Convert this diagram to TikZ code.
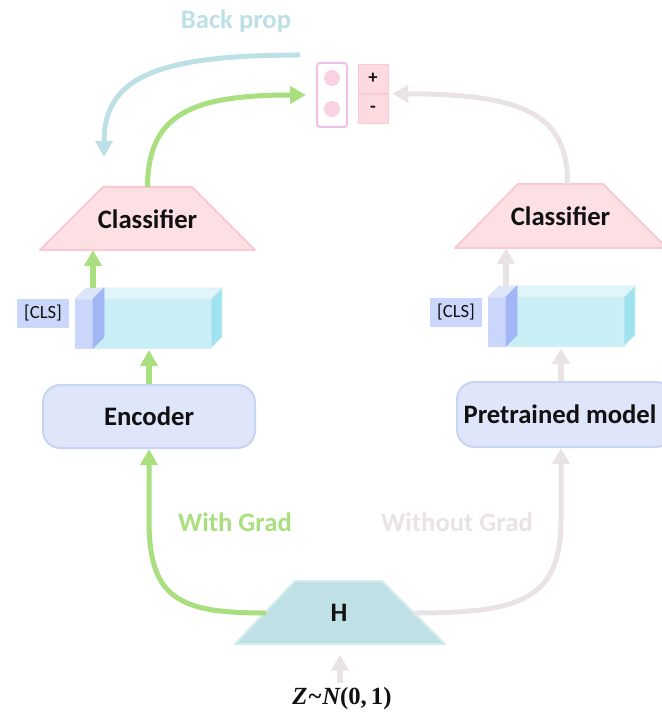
\documentclass[tikz,border=0pt]{standalone}
\usepackage[no-math]{fontspec}
\setmainfont{Carlito}
\newfontfamily\zserif{Liberation Serif}
\usetikzlibrary{arrows.meta,calc}
\definecolor{cG}{HTML}{A9DF7F}
\definecolor{cB}{HTML}{BDE0E6}
\definecolor{cR}{HTML}{E9E2E6}
\definecolor{pinkF}{HTML}{FCE0E4}
\definecolor{pinkD}{HTML}{F9C9D5}
\definecolor{outD}{HTML}{F0BFEA}
\definecolor{dotF}{HTML}{F8D2E3}
\definecolor{pmF}{HTML}{FCDADF}
\definecolor{cyF}{HTML}{C9EFF6}
\definecolor{cyT}{HTML}{E0F5F9}
\definecolor{cyS}{HTML}{9FE3F0}
\definecolor{cyD}{HTML}{D6EEF1}
\definecolor{clF}{HTML}{CBD7FA}
\definecolor{clT}{HTML}{DDE5F8}
\definecolor{clS}{HTML}{A2B6F6}
\definecolor{encF}{HTML}{DFE6FA}
\definecolor{encD}{HTML}{C8D4F4}
\definecolor{hF}{HTML}{BFE1E5}
\definecolor{hD}{HTML}{D5ECEE}
\definecolor{ink}{HTML}{111111}
\newcommand{\zdist}{{\zserif\bfseries\itshape Z}\kern0.04em{\zserif\bfseries\char`\~}\kern0.04em{\zserif\bfseries\itshape N}{\zserif\bfseries(0,\,1)}}
\begin{document}
\begin{tikzpicture}[x=0.75pt,y=-0.75pt,
  big/.style={font=\fontsize{20}{24}\selectfont\bfseries, text=ink},
  trapfill/.style={line width=1.5pt, line join=round},
  rbox/.style={draw=encD, fill=encF, line width=1.5pt, rounded corners=13pt, inner sep=0pt},
  cfront/.style={draw=cyD, fill=cyF, line width=0.6pt, minimum width=88.5pt, minimum height=36.75pt, inner sep=0pt, outer sep=0pt},
  lfront/.style={draw=clF, fill=clF, line width=0.6pt, minimum width=13.5pt, minimum height=36.75pt, inner sep=0pt, outer sep=0pt},
  face/.style={line width=0.6pt},
  lbox/.style={fill=clF, minimum width=39pt, minimum height=21.75pt, inner sep=0pt, font=\fontsize{14}{16}\selectfont, text=ink},
  pm/.style={fill=pmF, draw=pinkD, line width=0.5pt, minimum width=22.5pt, minimum height=21.75pt, inner sep=0pt, font=\fontsize{14}{16}\selectfont\bfseries, text=ink},
  ztext/.style={font=\fontsize{18.5}{22}\selectfont, text=ink},
  tipS/.style={-{Triangle[width=12.75pt,length=12pt]}},
  gS/.style={draw=cG, line width=4.5pt, tipS},
  rS/.style={draw=cR, line width=4.5pt, tipS},
  gC/.style={draw=cG, line width=3.75pt, tipS},
  rC/.style={draw=cR, line width=3.75pt, tipS},
  bC/.style={draw=cB, line width=3.75pt, tipS}
]
\useasboundingbox (0,0) rectangle (661,716);

% ---------- top output ----------
\node[draw=outD, line width=1.5pt, rounded corners=2.25pt, minimum width=22.5pt, minimum height=48pt, inner sep=0pt] (outbox) at (332,95) {};
\node[circle, fill=dotF, minimum size=12pt, inner sep=0pt] (d1) at (332,78) {};
\node[circle, fill=dotF, minimum size=12pt, inner sep=0pt] (d2) at (332,109) {};
\node[pm] (plus) at (373,78.5) {+};
\node[pm] (minus) at (373,109) {-};
\coordinate (pmE) at ($(plus.south east)!0.5!(minus.north east)$);

\node[big, text=cB] (bp) at (236,21) {Back prop};
\coordinate (bps) at (300,55);
\coordinate (bpe) at (104,157);
\draw[bC] (bps) .. controls (155,55) and (104,78) .. (bpe);

% ---------- classifiers ----------
\path[trapfill, fill=pinkF, draw=pinkD] (40,250) -- (103,187) -- (192,187) -- (255,250) -- cycle;
\node[big] (clfL) at (147.5,219) {Classifier};
\coordinate (clfLtop) at (147.5,187);
\coordinate (clfLbot) at (147.5,250);
\path[trapfill, fill=pinkF, draw=pinkD] (455,248) -- (518,184) -- (603,184) -- (667,248) -- cycle;
\node[big] (clfR) at (560.5,216.5) {Classifier};
\coordinate (clfRtop) at (560.5,184);
\coordinate (clfRbot) at (560.5,248);

% ---------- left cube ----------
\node[cfront] (cubeL) at (152,323.5) {};
\path[face, fill=cyT, draw=cyD] (cubeL.north west) -- ++(11,-11) -- ($(cubeL.north east)+(11,-11)$) -- (cubeL.north east) -- cycle;
\path[face, fill=cyS, draw=cyD] (cubeL.north east) -- ++(11,-11) -- ($(cubeL.south east)+(11,-11)$) -- (cubeL.south east) -- cycle;
\node[lfront] (clsL) at (84,323.5) {};
\path[face, fill=clT, draw=clT] (clsL.north west) -- ++(11,-11) -- ($(clsL.north east)+(11,-11)$) -- (clsL.north east) -- cycle;
\path[face, fill=clS, draw=clS] (clsL.north east) -- ++(11,-11) -- ($(clsL.south east)+(11,-11)$) -- (clsL.south east) -- cycle;
\node[lbox] (lbL) at (43,313.5) {[CLS]};

% ---------- right cube ----------
\node[cfront] (cubeR) at (565,321.5) {};
\path[face, fill=cyT, draw=cyD] (cubeR.north west) -- ++(11,-11) -- ($(cubeR.north east)+(11,-11)$) -- (cubeR.north east) -- cycle;
\path[face, fill=cyS, draw=cyD] (cubeR.north east) -- ++(11,-11) -- ($(cubeR.south east)+(11,-11)$) -- (cubeR.south east) -- cycle;
\node[lfront] (clsR) at (497,321.5) {};
\path[face, fill=clT, draw=clT] (clsR.north west) -- ++(11,-11) -- ($(clsR.north east)+(11,-11)$) -- (clsR.north east) -- cycle;
\path[face, fill=clS, draw=clS] (clsR.north east) -- ++(11,-11) -- ($(clsR.south east)+(11,-11)$) -- (clsR.south east) -- cycle;
\node[lbox] (lbR) at (456,312) {[CLS]};

% ---------- encoders ----------
\node[rbox, big, minimum width=159pt, minimum height=47.25pt] (encL) at (149,416.5) {Encoder};
\node[rbox, minimum width=162pt, minimum height=48.75pt] (pre) at (565,414.5) {};
\node[big] (pretxt) at (560,414) {Pretrained model};
\coordinate (preA) at ($(pre.north)+(-4,0)$);
\coordinate (preB) at ($(pre.south)+(-4,0)$);

% ---------- H ----------
\path[trapfill, fill=hF, draw=hD] (235,644) -- (295,581) -- (382,581) -- (445,644) -- cycle;
\node[big] (hbox) at (339,613) {H};
\coordinate (hW) at (266,613);
\coordinate (hE) at (414,613);
\coordinate (hS) at (340,644);
\node[ztext] (zt) at (342,699) {\zdist};

\node[big, text=cG] (wg) at (235,522) {With Grad};
\node[big, text=cR] (wog) at (457,522) {Without Grad};

% ---------- arrows ----------
\draw[gS] ($(clsL.north east)+(0,-11)$) -- (clsL.north east |- clfLbot);
\draw[gS, shorten >=1.5pt] (encL.north) -- (encL.north |- cubeL.south);
\draw[rS] ($(clsR.north east)+(0,-11)$) -- (clsR.north east |- clfRbot);
\draw[rS, shorten >=1.5pt] (preA) -- (preA |- cubeR.south);

\draw[gC, shorten >=7.5pt] (clfLtop) .. controls (148,115) and (190,95) .. (outbox.west);
\draw[rC, shorten >=3pt] ($(clfRtop)+(7,0)$) .. controls (568,115) and (525,94) .. (pmE);

\draw[gC] (hW) .. controls (180,613) and (149,600) .. (149,520) -- (encL.south);
\draw[rC] (hE) .. controls (520,613) and (561,600) .. (561,520) -- (preB);

\draw[rS, shorten >=8pt] (zt.north -| hS) -- (hS);
\end{tikzpicture}
\end{document}
